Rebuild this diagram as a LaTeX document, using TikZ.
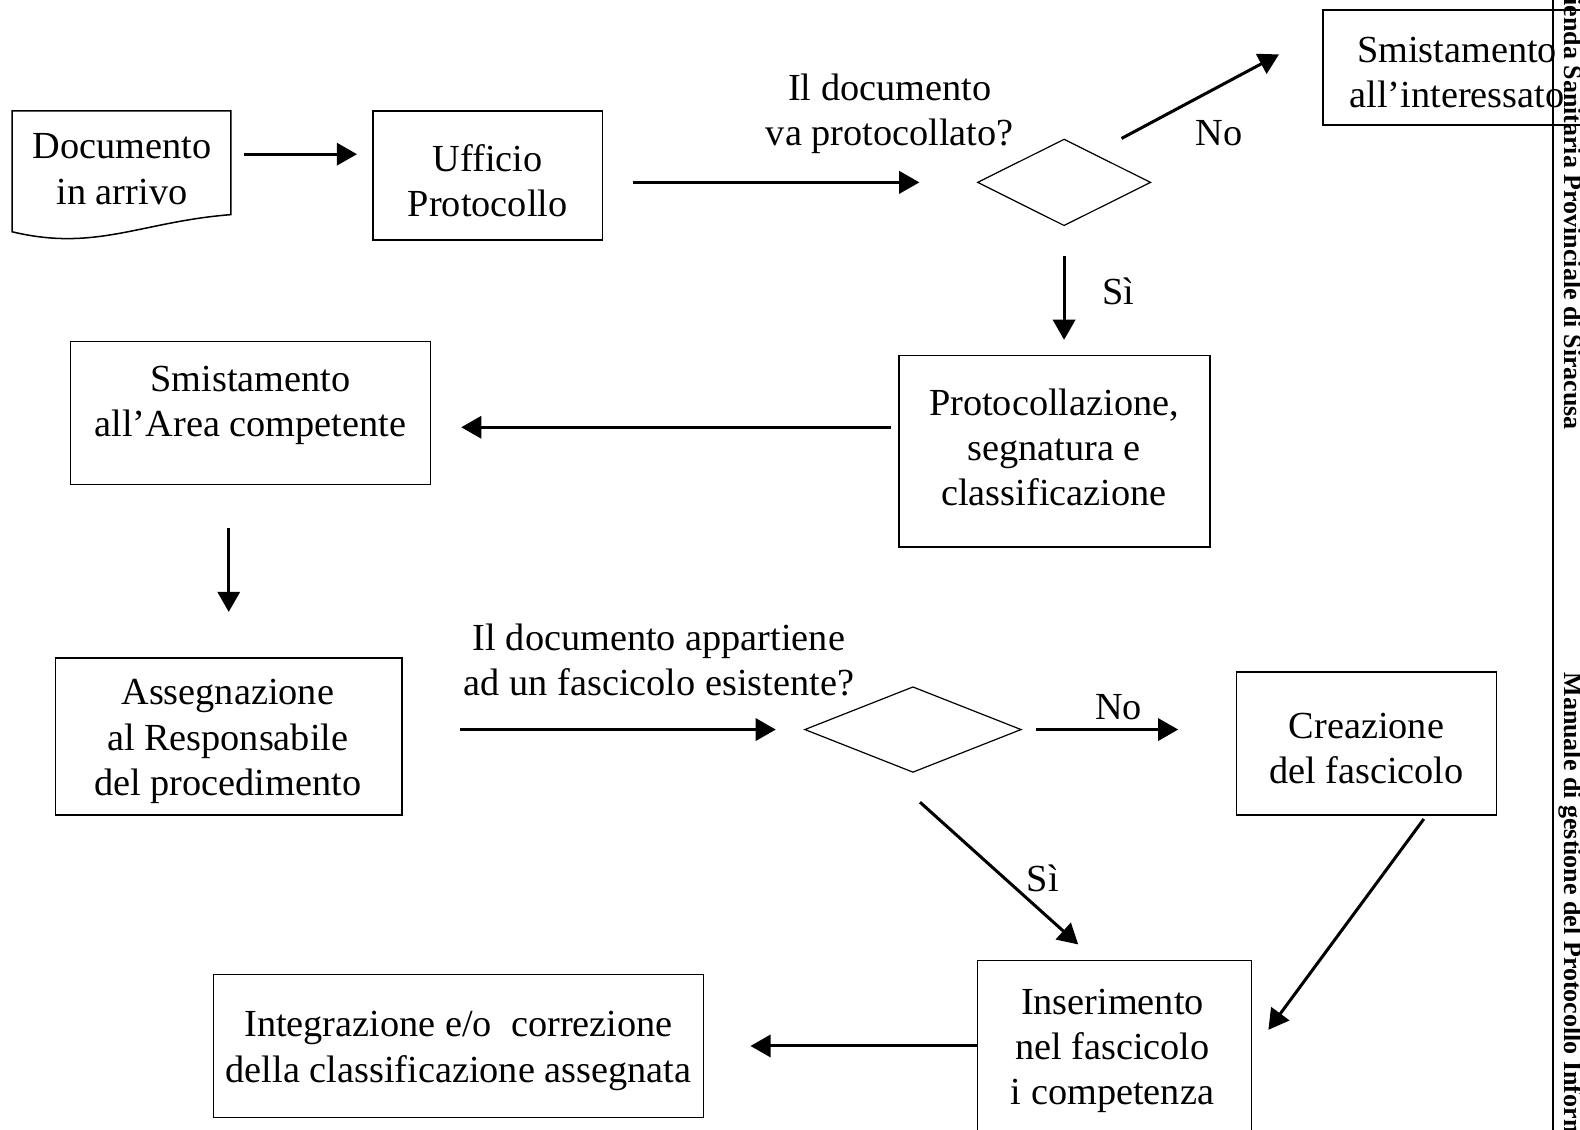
\documentclass[tikz,border=0pt]{standalone}
\usepackage{fontspec}
\setmainfont{Liberation Serif}
\usetikzlibrary{arrows.meta,shapes.geometric}
\begin{document}
\begin{tikzpicture}[x=0.5pt,y=-0.5pt,
  txt/.style={font=\fontsize{19pt}{22.5pt}\selectfont, align=center, inner sep=0pt},
  boxnode/.style={draw, line width=0.75pt, inner sep=0pt},
  dia/.style={draw, diamond, line width=0.6pt, inner sep=0pt},
  arr/.style={line width=1.5pt, -{Triangle[length=10pt,width=11pt]}},
  hdr/.style={font=\fontsize{12.9pt}{15pt}\selectfont\bfseries, inner sep=0pt, rotate=-90}]
\useasboundingbox (0,0) rectangle (1568,1121);
\clip (0,0) rectangle (1568,1121);
\fill[white] (0,0) rectangle (1568,1121);

% Documento in arrivo
\node[minimum width=108.5pt, minimum height=60.5pt, inner sep=0pt] (docb) at (120.5,170.5) {};
\draw[line width=0.75pt] (12,110) -- (229,110) -- (229,213)
   .. controls (140,220) and (95,250) .. (12,230) -- cycle;
\node[txt] (doc) at (121,168) {Documento\\in arrivo};

% Ufficio Protocollo
\node[boxnode, minimum width=114pt, minimum height=64pt] (uff) at (484,174) {};
\node[txt] (ufft) at (484,179) {Ufficio\\Protocollo};

% question 1
\node[txt] (q1) at (883,113) {Il documento\\va protocollato?};
\node[dia, minimum width=86pt, minimum height=43pt] (d1) at (1056,181) {};

% Smistamento all'interessato
\node[boxnode, minimum width=133.5pt, minimum height=57pt] (sm1) at (1446.5,67) {};
\node[txt] (sm1t) at (1446,72) {Smistamento\\all’interessato};

% Protocollazione
\node[boxnode, minimum width=154.5pt, minimum height=95pt] (prot) at (1046.5,448) {};
\node[txt] (prott) at (1046,444) {Protocollazione,\\segnatura e\\classificazione};

% Smistamento all'Area competente
\node[boxnode, minimum width=178.5pt, minimum height=71pt] (sm2) at (248.5,410) {};
\node[txt] (sm2t) at (248.5,402) {Smistamento\\all’Area competente};

% Assegnazione
\node[boxnode, minimum width=172pt, minimum height=78pt] (ass) at (227,731) {};
\node[txt] (asst) at (226,736) {Assegnazione\\al Responsabile\\del procedimento};

% question 2
\node[txt] (q2) at (654,655) {Il documento appartiene\\ad un fascicolo esistente?};
\node[dia, minimum width=107.5pt, minimum height=42.5pt] (d2) at (906,724) {};

% Creazione del fascicolo
\node[boxnode, minimum width=129pt, minimum height=71pt] (crea) at (1356,738) {};
\node[txt] (creat) at (1356,743) {Creazione\\del fascicolo};

% Inserimento nel fascicolo
\node[boxnode, minimum width=136pt, minimum height=95pt] (ins) at (1106,1048) {};
\node[txt] (inst) at (1104,1043) {Inserimento\\nel fascicolo\\i competenza};

% Integrazione
\node[boxnode, minimum width=243pt, minimum height=71pt] (integ) at (455,1038) {};
\node[txt] (integt) at (455,1043) {Integrazione e/o\ \ correzione\\della classificazione assegnata};

% connectors
\draw[arr, shorten <=6.5pt, shorten >=7.5pt] ([shift={(0,-17.5)}]docb.east) -- ([shift={(0,-21)}]uff.west);
\draw[arr, shorten <=14.5pt, shorten >=28.5pt] (uff.east |- d1.west) -- (d1.west);
\draw[arr] ([shift={(57,0)}]d1.north) -- ([shift={(-43,-13)}]sm1.west);
\node[txt] (no1) at (1210,132) {No};
\draw[arr, shorten <=14.5pt, shorten >=7.5pt] (d1.south) -- (d1.south |- prot.north);
\node[txt] (si1) at (1110,289) {Sì};
\draw[arr, shorten <=3.5pt, shorten >=15pt] ([shift={(0,-24)}]prot.west) -- ([shift={(0,14)}]sm2.east);
\draw[arr, shorten <=21pt, shorten >=22.5pt] (sm2.south -| ass.north) -- (ass.north);
\draw[arr, shorten <=28.5pt, shorten >=14pt] (ass.east |- d2.west) -- (d2.west);
\draw[arr, shorten <=7pt, shorten >=28.5pt] (d2.east) -- (d2.east -| crea.west);
\node[txt] (no2) at (1110,702) {No};
\draw[arr] ([shift={(7,29)}]d2.south) -- ([shift={(-36,-15)}]ins.north);
\node[txt] (si2) at (1035,872) {Sì};
\draw[arr] ([shift={(57,3)}]crea.south) -- ([shift={(16,-26)}]ins.east);
\draw[arr, shorten >=23pt] (ins.west |- integ.east) -- (integ.east);

% page header
\coordinate (vtop) at (1541,0);
\coordinate (vbot) at (1541,1121);
\draw[line width=0.75pt] (vtop) -- (vbot);
\node[hdr, anchor=base east] (h1) at (1553,427) {Azienda Sanitaria Provinciale di Siracusa};
\node[hdr, anchor=base west] (h2) at (1553,667) {Manuale di gestione del Protocollo Informatico};
\end{tikzpicture}
\end{document}
